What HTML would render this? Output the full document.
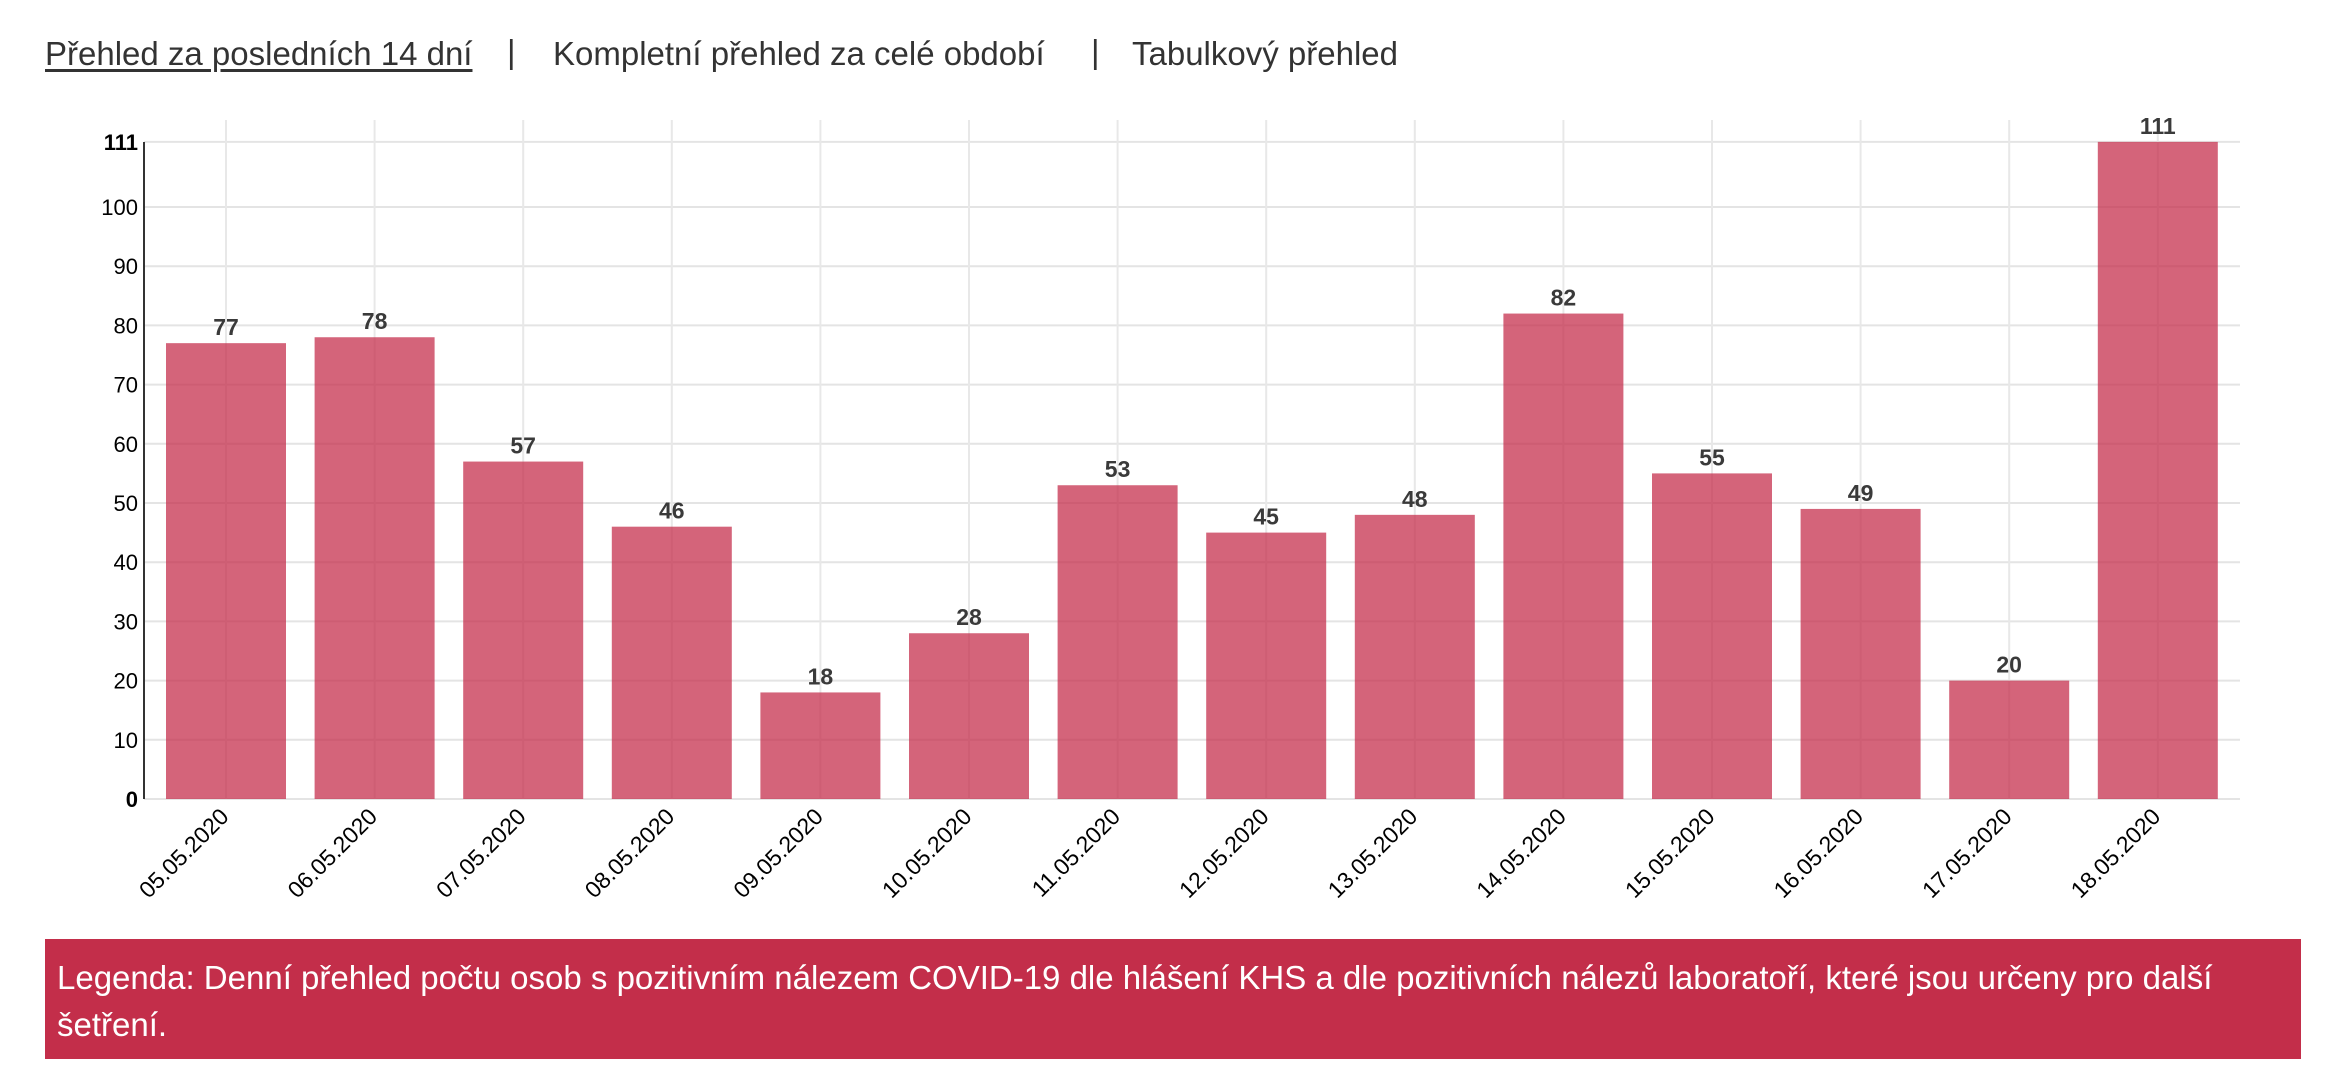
<!DOCTYPE html>
<html><head><meta charset="utf-8"><style>
body{margin:0;width:2332px;height:1067px;background:#fff;overflow:hidden;font-family:"Liberation Sans",sans-serif;}
.nav{position:absolute;top:35px;left:45px;font-size:33px;color:#333;white-space:nowrap;}
.nav span{position:absolute;top:0}
.leg{position:absolute;left:45px;top:939px;width:2256px;height:120px;background:#c32e4a;color:#fff;font-size:33px;line-height:47px;box-sizing:border-box;padding:15px 12px;}
</style></head><body>
<div class="nav">
<span style="left:0;text-decoration:underline;text-underline-offset:4px">Přehled za posledních 14 dní</span>
<span style="left:462px;top:-2px">|</span>
<span style="left:508px">Kompletní přehled za celé období</span>
<span style="left:1046px;top:-2px">|</span>
<span style="left:1087px">Tabulkový přehled</span>
</div>
<svg width="2332" height="940" style="position:absolute;left:0;top:0" font-family="Liberation Sans, sans-serif">
<g id="g"></g>
</svg>
<div class="leg">Legenda: Denní přehled počtu osob s pozitivním nálezem COVID-19 dle hlášení KHS a dle pozitivních nálezů laboratoří, které jsou určeny pro další šetření.</div>
<script>
var vals=[77,78,57,46,18,28,53,45,48,82,55,49,20,111];
var s='',z=799,u=5.92,x0=226,dx=148.6;
for(var v=0;v<=100;v+=10){var y=z-v*u;s+='<line x1="144" x2="2240" y1="'+y+'" y2="'+y+'" stroke="#e4e4e4" stroke-width="2"/>';if(v>0)s+='<text x="138" y="'+(y+8)+'" font-size="22" text-anchor="end">'+v+'</text>';}
var yt=z-111*u;
s+='<line x1="144" x2="2240" y1="'+yt+'" y2="'+yt+'" stroke="#e4e4e4" stroke-width="2"/>';
s+='<text x="138" y="'+(yt+8)+'" font-size="22" font-weight="bold" text-anchor="end">111</text>';
s+='<text x="138" y="'+(z+8)+'" font-size="22" font-weight="bold" text-anchor="end">0</text>';
for(var i=0;i<14;i++){var c=x0+i*dx;s+='<line x1="'+c+'" x2="'+c+'" y1="120" y2="'+z+'" stroke="#e8e8e8" stroke-width="2"/>';}
for(var i=0;i<14;i++){var c=x0+i*dx,h=vals[i]*u;
s+='<rect x="'+(c-60)+'" y="'+(z-h)+'" width="120" height="'+h+'" fill="rgba(196,40,70,0.72)"/>';
s+='<text x="'+c+'" y="'+(z-h-8)+'" font-size="23" font-weight="bold" fill="#3a3a3a" text-anchor="middle">'+vals[i]+'</text>';
var d=(5+i<10?'0':'')+(5+i)+'.05.2020';
s+='<text transform="translate('+(c+4)+',818) rotate(-45)" font-size="23" text-anchor="end">'+d+'</text>';}
s+='<line x1="144" x2="144" y1="142" y2="'+z+'" stroke="#333" stroke-width="2"/>';
document.getElementById('g').innerHTML=s;
</script>
</body></html>
